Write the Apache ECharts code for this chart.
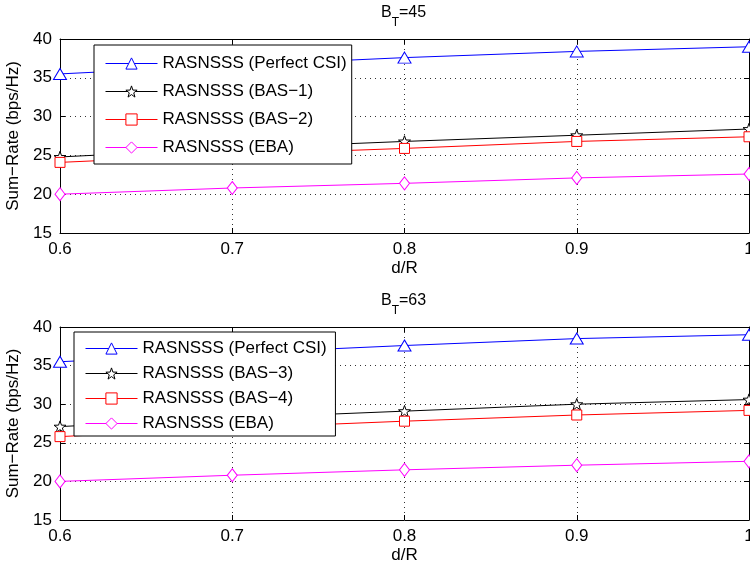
<!DOCTYPE html>
<html>
<head>
<meta charset="utf-8">
<script src="https://cdn.jsdelivr.net/npm/echarts@6/dist/echarts.min.js"></script>
<style>
html,body{margin:0;padding:0;background:#fff;}
#c{width:750px;height:567px;}
</style>
</head>
<body>
<div id="c"></div>
<script>
// ---- data ----
var dR = [0.6, 0.7, 0.8, 0.9, 1.0];
var xTicks = [0.6, 0.7, 0.8, 0.9, 1];
var yTicks = [15, 20, 25, 30, 35, 40];

var top_perfect = [35.5, 36.6, 37.6, 38.4, 39.0];
var top_bas1    = [24.8, 25.9, 26.8, 27.6, 28.4];
var top_bas2    = [24.1, 25.1, 25.9, 26.8, 27.4];
var top_eba     = [20.0, 20.8, 21.4, 22.1, 22.6];

var bot_perfect = [35.5, 36.6, 37.6, 38.5, 39.0];
var bot_bas3    = [27.1, 28.2, 29.1, 30.0, 30.6];
var bot_bas4    = [25.8, 26.9, 27.8, 28.6, 29.2];
var bot_eba     = [20.0, 20.8, 21.5, 22.1, 22.6];

var topNames = ['RASNSSS (Perfect CSI)', 'RASNSSS (BAS\u22121)', 'RASNSSS (BAS\u22122)', 'RASNSSS (EBA)'];
var botNames = ['RASNSSS (Perfect CSI)', 'RASNSSS (BAS\u22123)', 'RASNSSS (BAS\u22124)', 'RASNSSS (EBA)'];

// ---- styling ----
var FONT = "'Liberation Sans', Arial, Helvetica, sans-serif";
var colors = ['#0000ff', '#000000', '#ff0000', '#ff00ff'];
var STAR = 'path://M0,-10 L2.35,-3.24 L9.51,-3.09 L3.8,1.24 L5.88,8.09 L0,4 L-5.88,8.09 L-3.8,1.24 L-9.51,-3.09 L-2.35,-3.24 Z';
var symbols = ['triangle', STAR, 'rect', 'diamond'];
var symSizes = [[13, 11], [12, 12], [10, 10], [10, 13]];

function pairs(vals) {
  return dR.map(function (x, i) { return [x, vals[i]]; });
}

var grids = [
  {left: 60, right: 1, top: 39, height: 194, outerBoundsMode: 'none', containLabel: false},
  {left: 60, right: 1, top: 327, height: 193, outerBoundsMode: 'none', containLabel: false}
];

function xAxes(gi) {
  return [
    {
      type: 'value', gridIndex: gi, min: 0.6, max: 1, interval: 0.1,
      name: 'd/R', nameLocation: 'middle', nameGap: 27,
      nameTextStyle: {fontSize: 17, color: '#000', fontFamily: FONT},
      axisLine: {show: true, lineStyle: {color: '#000', width: 1}},
      axisTick: {show: true, inside: true, length: 5, lineStyle: {color: '#000'}},
      axisLabel: {fontSize: 17, color: '#000', fontFamily: FONT, margin: 8, hideOverlap: false,
        formatter: function (v) { return Math.abs(v - 1) < 1e-9 ? '1' : v.toFixed(1); }},
      splitLine: {show: true, lineStyle: {color: '#333', type: [1, 4], width: 1}}
    },
    {
      type: 'value', gridIndex: gi, position: 'top', min: 0.6, max: 1, interval: 0.1,
      axisLine: {show: true, onZero: false, lineStyle: {color: '#000', width: 1}},
      axisTick: {show: true, inside: true, length: 5, lineStyle: {color: '#000'}},
      axisLabel: {show: false}, splitLine: {show: false}
    }
  ];
}
function yAxes(gi) {
  return [
    {
      type: 'value', gridIndex: gi, min: 15, max: 40, interval: 5,
      name: 'Sum\u2212Rate (bps/Hz)', nameLocation: 'middle', nameGap: 31,
      nameTextStyle: {fontSize: 17, color: '#000', fontFamily: FONT},
      axisLine: {show: true, lineStyle: {color: '#000', width: 1}},
      axisTick: {show: true, inside: true, length: 5, lineStyle: {color: '#000'}},
      axisLabel: {fontSize: 17, color: '#000', fontFamily: FONT, margin: 8},
      splitLine: {show: true, lineStyle: {color: '#333', type: [1, 4], width: 1}}
    },
    {
      type: 'value', gridIndex: gi, position: 'right', min: 15, max: 40, interval: 5,
      axisLine: {show: true, onZero: false, lineStyle: {color: '#000', width: 1}},
      axisTick: {show: true, inside: true, length: 5, lineStyle: {color: '#000'}},
      axisLabel: {show: false}, splitLine: {show: false}
    }
  ];
}

function mkSeries(names, arrs, gi) {
  return arrs.map(function (vals, i) {
    return {
      type: 'line', name: names[i] + (gi ? ' ' : ''),
      xAxisIndex: gi * 2, yAxisIndex: gi * 2,
      data: pairs(vals),
      symbol: symbols[i], symbolSize: symSizes[i], symbolKeepAspect: i === 1,
      showAllSymbol: true, clip: false, animation: false,
      lineStyle: {color: colors[i], width: 1},
      itemStyle: {color: '#ffffff', borderColor: colors[i], borderWidth: 1},
      emphasis: {disabled: true}
    };
  });
}

var series = mkSeries(topNames, [top_perfect, top_bas1, top_bas2, top_eba], 0)
  .concat(mkSeries(botNames, [bot_perfect, bot_bas3, bot_bas4, bot_eba], 1));

var titleRich = {
  a: {fontSize: 16, lineHeight: 16, color: '#000', fontWeight: 'normal', fontFamily: FONT, verticalAlign: 'top'},
  b: {fontSize: 12, lineHeight: 12, color: '#000', fontWeight: 'normal', fontFamily: FONT, verticalAlign: 'top', padding: [12, 0, 0, 0]}
};

function legendCfg(names, left, top, gap, pad) {
  return {
    orient: 'vertical', left: left, top: top, itemGap: gap,
    itemWidth: 52, itemHeight: 14, padding: pad,
    backgroundColor: '#ffffff', borderColor: '#000', borderWidth: 1, borderRadius: 0,
    selectedMode: false,
    itemStyle: {borderWidth: 1},
    lineStyle: {width: 1},
    textStyle: {fontSize: 17, lineHeight: 17, color: '#000', fontFamily: FONT},
    data: names
  };
}

var option = {
  animation: false,
  backgroundColor: '#ffffff',
  textStyle: {fontFamily: FONT},
  title: [
    {text: '{a|B}{b|T}{a|=45}', left: 381, top: 5, padding: 0, textStyle: {fontWeight: 'normal', rich: titleRich}},
    {text: '{a|B}{b|T}{a|=63}', left: 381, top: 293, padding: 0, textStyle: {fontWeight: 'normal', rich: titleRich}}
  ],
  grid: grids,
  xAxis: xAxes(0).concat(xAxes(1)),
  yAxis: yAxes(0).concat(yAxes(1)),
  legend: [
    legendCfg(topNames, 94, 45, 11, [10, 5, 8, 11]),
    legendCfg(botNames.map(function (n) { return n + ' '; }), 74, 332, 8, [8, 4, 4, 11])
  ],
  series: series
};

var chart = echarts.init(document.getElementById('c'), null, {renderer: 'canvas'});
chart.setOption(option);
</script>
</body>
</html>
